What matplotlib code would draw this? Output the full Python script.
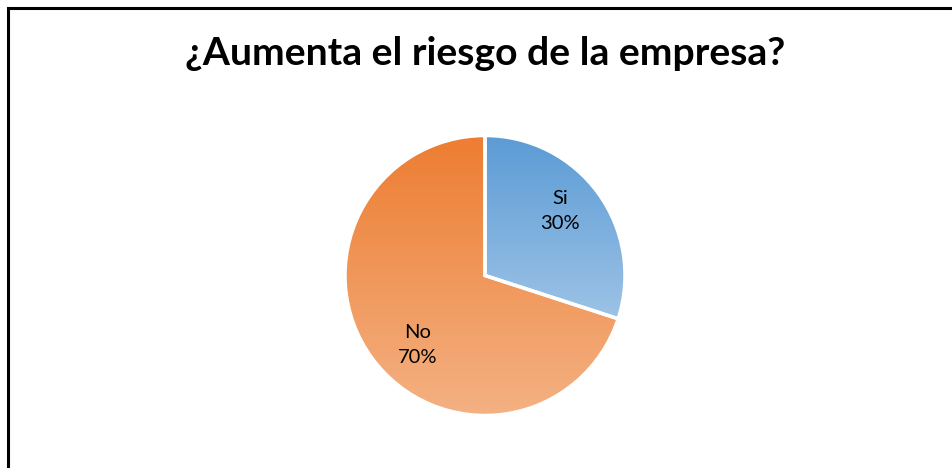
import numpy as np
import matplotlib
matplotlib.use("Agg")
from matplotlib import pyplot as plt
from matplotlib.colors import LinearSegmentedColormap
from matplotlib.patches import Rectangle

# datos del grafico
categorias = ["Si", "No"]
porcentajes = [30, 70]
titulo = "¿Aumenta el riesgo de la empresa?"

# colores degradados (arriba -> abajo) estilo Excel
degradados = {
    "Si": ("#5B9BD5", "#9DC3E6"),
    "No": ("#ED7D31", "#F4B183"),
}

W, H = 952, 468
fig = plt.figure(figsize=(W / 100, H / 100), dpi=100)
ax = fig.add_axes([0, 0, 1, 1])

# marco del grafico (solo se ven lado izquierdo y superior)
fig.patches.append(Rectangle((7.5 / W, -0.1), 1.2, (H - 7.5) / H + 0.1,
                             transform=fig.transFigure, fill=False,
                             edgecolor="black", linewidth=2.2))

centro = (485, H - 275.5)
radio = 140
wedges, _ = ax.pie(porcentajes, startangle=90, counterclock=False,
                   center=centro, radius=radio, frame=True,
                   wedgeprops=dict(edgecolor="white", linewidth=2.5))

for w, cat in zip(wedges, categorias):
    c1, c2 = degradados[cat]
    cmap = LinearSegmentedColormap.from_list(cat, [c1, c2])
    bb = w.get_path().get_extents()
    grad = np.linspace(0, 1, 256).reshape(-1, 1)
    im = ax.imshow(grad, cmap=cmap, aspect="auto", origin="upper",
                   extent=(bb.x0, bb.x1, bb.y0, bb.y1), zorder=w.get_zorder())
    im.set_clip_path(w)
    w.set_facecolor("none")
    w.set_zorder(3)

ax.set_xlim(0, W)
ax.set_ylim(0, H)
ax.set_aspect("equal")
ax.axis("off")

# etiquetas de datos
pos_etiquetas = {"Si": (560, H - 211), "No": (418, H - 345)}
for cat, p in zip(categorias, porcentajes):
    x, y = pos_etiquetas[cat]
    ax.text(x, y, f"{cat}\n{p}%", ha="center", va="center", fontsize=14.5,
            family="Lato", linespacing=1.6, zorder=5)

fig.text(485 / W, 1 - 65 / H, titulo, ha="center", va="baseline",
         fontsize=28.2, fontweight="bold", family="Lato")

fig.savefig("out.png", dpi=100)
